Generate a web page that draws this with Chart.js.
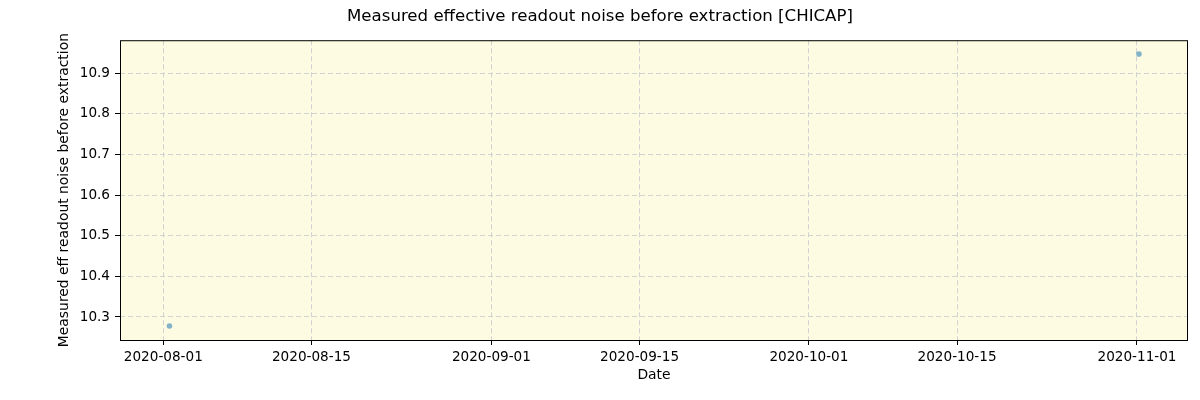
<!DOCTYPE html>
<html>
<head>
<meta charset="utf-8">
<script src="https://cdn.jsdelivr.net/npm/chart.js@4"></script>
<style>
  html, body { margin: 0; padding: 0; background: #ffffff; }
  #wrap { width: 1200px; height: 400px; }
</style>
</head>
<body>
<div id="wrap"><canvas id="myChart" width="1200" height="400"></canvas></div>
<script>
// Dados
const dates = ['2020-08-01T14:00:00Z', '2020-11-01T04:30:00Z'];
const noiseValues = [10.278, 10.947];
const xTickLabels = ['2020-08-01', '2020-08-15', '2020-09-01', '2020-09-15', '2020-10-01', '2020-10-15', '2020-11-01'];
const yTickLabels = [10.3, 10.4, 10.5, 10.6, 10.7, 10.8, 10.9];

const xMin = Date.parse('2020-07-27T21:50:00Z');
const xMax = Date.parse('2020-11-05T19:40:00Z');
const yMin = 10.2434;
const yMax = 10.981;

const points = dates.map((d, i) => ({ x: Date.parse(d), y: noiseValues[i] }));
const xTickValues = xTickLabels.map(d => Date.parse(d + 'T00:00:00Z'));

const FONT = "'DejaVu Sans', sans-serif";

// Fundo amarelo e moldura da área do gráfico
const frame = {
    id: 'frame',
    beforeDraw(chart) {
        const a = chart.chartArea;
        const ctx = chart.ctx;
        ctx.save();
        ctx.fillStyle = '#fdfbe2';
        ctx.fillRect(a.left, a.top, a.right - a.left, a.bottom - a.top);
        ctx.restore();
    },
    afterDraw(chart) {
        const a = chart.chartArea;
        const ctx = chart.ctx;
        ctx.save();
        ctx.strokeStyle = '#000000';
        ctx.lineWidth = 1;
        ctx.strokeRect(a.left + 0.5, a.top + 0.5, a.right - a.left - 1, a.bottom - a.top);
        ctx.restore();
    }
};

const ctx = document.getElementById('myChart').getContext('2d');
const myChart = new Chart(ctx, {
    type: 'scatter',
    data: {
        datasets: [{
            label: 'noise',
            data: points,
            backgroundColor: 'rgba(31, 119, 180, 0.55)',
            borderWidth: 0,
            pointRadius: 2.8
        }]
    },
    plugins: [frame],
    options: {
        responsive: false,
        animation: false,
        layout: { padding: 0 },
        plugins: {
            legend: { display: false },
            tooltip: { enabled: false },
            title: {
                display: true,
                text: 'Measured effective readout noise before extraction [CHICAP]',
                color: '#000000',
                font: { family: FONT, size: 16.6, weight: 'normal' },
                padding: { top: 7, bottom: 13.3 }
            }
        },
        scales: {
            x: {
                type: 'linear',
                min: xMin,
                max: xMax,
                afterBuildTicks(scale) {
                    scale.ticks = xTickValues.map(v => ({ value: v }));
                },
                afterFit(scale) { scale.height = 60; },
                ticks: {
                    color: '#000000',
                    font: { family: FONT, size: 13.6 },
                    padding: 4,
                    maxRotation: 0,
                    autoSkip: false,
                    callback: (v) => new Date(v).toISOString().slice(0, 10)
                },
                grid: {
                    color: '#d3d3d3',
                    tickBorderDash: [],
                    tickColor: '#000000',
                    tickLength: 5,
                    drawTicks: true
                },
                border: { display: false, dash: [5, 3] },
                title: {
                    display: true,
                    text: 'Date',
                    color: '#000000',
                    font: { family: FONT, size: 13.9 },
                    padding: { top: 2, bottom: 16 }
                }
            },
            y: {
                min: yMin,
                max: yMax,
                afterBuildTicks(scale) {
                    scale.ticks = yTickLabels.map(v => ({ value: v }));
                },
                afterFit(scale) { scale.width = 120; },
                ticks: {
                    color: '#000000',
                    font: { family: FONT, size: 13.6 },
                    padding: 5,
                    callback: (v) => v.toFixed(1)
                },
                grid: {
                    color: '#d3d3d3',
                    tickBorderDash: [],
                    tickColor: '#000000',
                    tickLength: 5,
                    drawTicks: true
                },
                border: { display: false, dash: [5, 3] },
                title: {
                    display: true,
                    text: 'Measured eff readout noise before extraction',
                    color: '#000000',
                    font: { family: FONT, size: 13.9 },
                    padding: { top: 56.5, bottom: 0 }
                }
            },
            // eixo vazio só para reservar a margem direita
            yRight: {
                position: 'right',
                min: yMin,
                max: yMax,
                afterFit(scale) { scale.width = 12; },
                ticks: { display: false },
                grid: { display: false },
                border: { display: false }
            }
        }
    }
});
</script>
</body>
</html>
